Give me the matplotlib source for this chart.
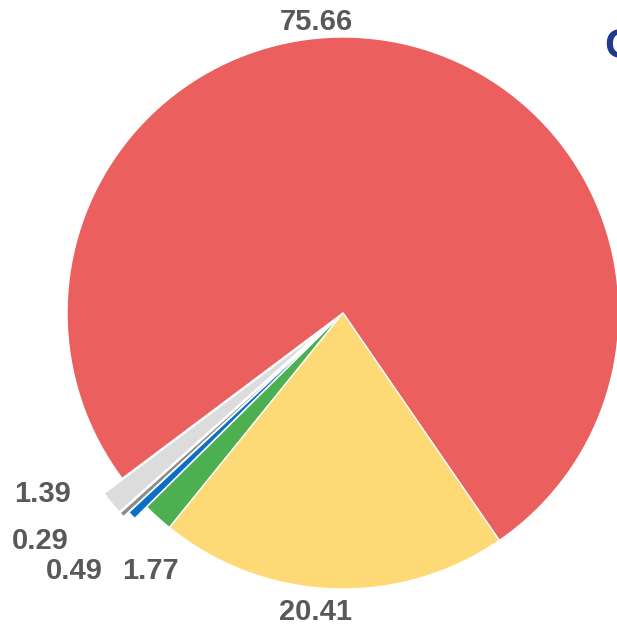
import matplotlib
matplotlib.use('Agg')
import matplotlib.pyplot as plt

# slice values, counterclockwise from the red/yellow boundary
values = [75.66, 1.39, 0.29, 0.49, 1.77, 20.41]
colors = ['#EB5F5F', '#DCDCDC', '#8C8C8C', '#0A70C4', '#4CAF50', '#FDDA76']
explode = [0, 0.085, 0.085, 0.06, 0, 0]

# label anchor points (data units, pie radius = 1)
label_pos = [(-0.098, 1.054), (-1.087, -0.656), (-1.098, -0.826),
             (-0.975, -0.935), (-0.699, -0.935), (-0.098, -1.083)]

W, H = 617, 629
cx, cy, r = 343, 313, 276

fig = plt.figure(figsize=(W / 100, H / 100), dpi=100)
fig.patch.set_facecolor('white')
ax = fig.add_axes([0, 0, 1, 1])
ax.axis('off')

ax.pie(values, colors=colors, explode=explode, startangle=-55.5,
       counterclock=True, radius=1,
       wedgeprops=dict(edgecolor='white', linewidth=1.0))

for v, (x, y) in zip(values, label_pos):
    ax.text(x, y, f"{v:.2f}", color='#595959', fontsize=21, fontweight='bold',
            family='Liberation Sans', ha='center', va='center')

# title, cut off at the right edge
ax.text((604 - cx) / r, (cy - 47) / r, "C", color='#1F3A8F', fontsize=31,
        fontweight='bold', family='Liberation Sans', ha='left', va='center')

ax.set_xlim(-cx / r, (W - cx) / r)
ax.set_ylim(-(H - cy) / r, cy / r)
ax.set_aspect('equal')

plt.savefig('out.png', dpi=100, facecolor='white')
